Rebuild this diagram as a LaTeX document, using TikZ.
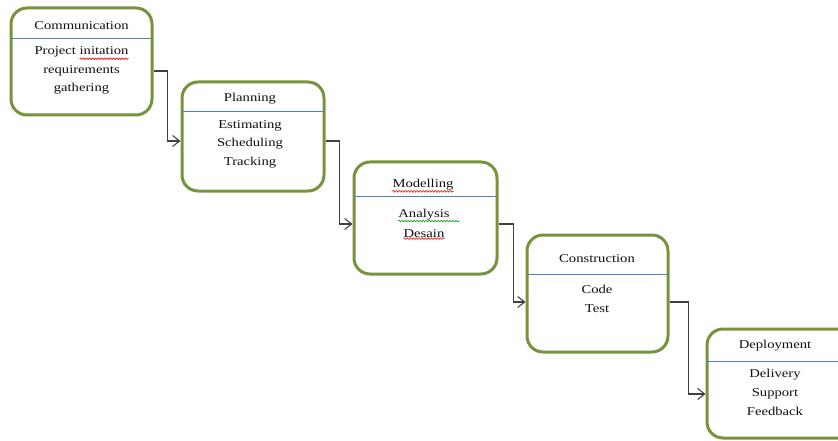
\documentclass[tikz,border=0pt]{standalone}
\usepackage{fontspec}
\setmainfont{Liberation Serif}[FakeStretch=1.22]
\usetikzlibrary{arrows.meta,decorations.pathmorphing}
\definecolor{boxgreen}{HTML}{77933C}
\definecolor{sepblue}{HTML}{4F81BD}
\definecolor{conngray}{HTML}{404040}
\definecolor{txt}{HTML}{111111}
\begin{document}
\begin{tikzpicture}[x=1pt,y=-1pt,
  phase/.style={draw=boxgreen, line width=3pt, rounded corners=16pt, inner sep=0pt, fill=white},
  sep/.style={draw=sepblue, line width=0.8pt, shorten <=1.5pt, shorten >=1.5pt},
  lbl/.style={text=txt, inner sep=0pt, anchor=base, font=\fontsize{12}{14}\selectfont},
  squig/.style={draw=#1, line width=0.6pt, decorate, decoration={snake, amplitude=0.8pt, segment length=3pt}},
  conn/.style={draw=conngray, line width=1.3pt, -{Straight Barb[length=7pt,width=11pt,line width=1.1pt]}}
]
\useasboundingbox (0,0) rectangle (838,441);
\clip (0,0) rectangle (838,441);

% Communication
\node[phase, minimum width=141pt, minimum height=107pt] (b1) at (81.5,61.5) {};
\draw[sep] (b1.west |- 0,38) -- (b1.east |- 0,38);
\node[lbl] (t1) at (81.5,29.5) {Communication};
\node[lbl] (l1a) at (81.5,55) {Project initation};
\node[lbl] (l1b) at (81.5,73.5) {requirements};
\node[lbl] (l1c) at (81.5,92) {gathering};
\draw[squig=red] ([xshift=-49pt,yshift=-1pt]l1a.south east) -- ([yshift=-1pt]l1a.south east);

% Planning
\node[phase, minimum width=142pt, minimum height=109pt] (b2) at (253,136.5) {};
\draw[sep] (b2.west |- 0,111.5) -- (b2.east |- 0,111.5);
\node[lbl] (t2) at (250,101.7) {Planning};
\node[lbl] (l2a) at (250,128.3) {Estimating};
\node[lbl] (l2b) at (250,146.7) {Scheduling};
\node[lbl] (l2c) at (250,165) {Tracking};

% Modelling
\node[phase, minimum width=143pt, minimum height=112pt] (b3) at (425.5,218) {};
\draw[sep] (b3.west |- 0,196) -- (b3.east |- 0,196);
\node[lbl] (t3) at (423,187.5) {Modelling};
\node[lbl] (l3a) at (424,217.3) {Analysis};
\node[lbl] (l3b) at (424,237.3) {Desain};
\draw[squig=red] ([yshift=-1pt]t3.south west) -- ([yshift=-1pt]t3.south east);
\draw[squig=green!55!black] ([yshift=-1pt]l3a.south west) -- ([xshift=10pt,yshift=-1pt]l3a.south east);
\draw[squig=red] ([yshift=-1pt]l3b.south west) -- ([yshift=-1pt]l3b.south east);

% Construction
\node[phase, minimum width=141pt, minimum height=117pt] (b4) at (597.5,293.5) {};
\draw[sep] (b4.west |- 0,274) -- (b4.east |- 0,274);
\node[lbl] (t4) at (597,262.7) {Construction};
\node[lbl] (l4a) at (597,293.3) {Code};
\node[lbl] (l4b) at (597,312.7) {Test};

% Deployment (continues past the right edge)
\node[phase, minimum width=170pt, minimum height=109pt] (b5) at (792,383.5) {};
\draw[sep] (b5.west |- 0,361) -- (b5.east |- 0,361);
\node[lbl] (t5) at (775,348.3) {Deployment};
\node[lbl] (l5a) at (775,377.7) {Delivery};
\node[lbl] (l5b) at (775,396.7) {Support};
\node[lbl] (l5c) at (775,415.7) {Feedback};

% connectors
\draw[conn] ([yshift=-9.5pt]b1.east) -- ++(14,0) |- ([yshift=-4.5pt]b2.west);
\draw[conn] ([yshift=-4.5pt]b2.east) -- ++(14,0) |- ([yshift=-6pt]b3.west);
\draw[conn] ([yshift=-6pt]b3.east) -- ++(15,0) |- ([yshift=-8.5pt]b4.west);
\draw[conn] ([yshift=-8.5pt]b4.east) -- ++(19,0) |- ([yshift=-10.5pt]b5.west);
\end{tikzpicture}
\end{document}
